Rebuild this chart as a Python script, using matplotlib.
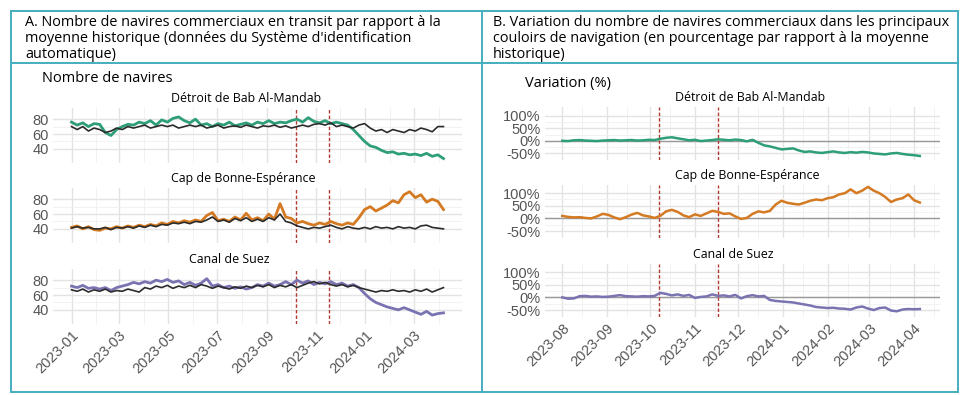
import numpy as np
import pandas as pd
import matplotlib
matplotlib.use('Agg')
import matplotlib.pyplot as plt
import matplotlib.dates as mdates
from matplotlib.patches import Rectangle
from matplotlib.lines import Line2D
from matplotlib.ticker import FuncFormatter

# ---- data ----
# Panel A: weekly counts, 2023-01-01 .. 2024-04-07
dates_a = pd.date_range('2023-01-01', periods=67, freq='7D')

bab_ships = [76, 72, 75, 70, 74, 73, 62, 58, 66, 70, 73, 72, 76,
             74, 78, 72, 79, 76, 81, 83, 78, 75, 80, 72, 74, 70,
             74, 72, 76, 71, 73, 75, 72, 76, 74, 78, 74, 76, 75,
             78, 80, 76, 82, 77, 75, 78, 74, 76, 74, 72, 66, 58, 50,
             44, 42, 38, 35, 36, 33, 34, 32, 33, 31, 34, 30, 32, 27]
bab_hist = [70, 66, 70, 64, 68, 66, 62, 64, 68, 66, 70, 68, 70,
            72, 68, 70, 72, 70, 72, 68, 70, 72, 70, 72, 68, 70,
            72, 68, 70, 71, 69, 72, 70, 68, 71, 70, 72, 69, 71,
            68, 70, 72, 70, 73, 74, 72, 75, 70, 72, 70, 68, 72, 74,
            68, 64, 66, 62, 66, 64, 62, 66, 64, 68, 66, 63, 70, 70]

cap_ships = [42, 44, 40, 43, 39, 38, 41, 40, 43, 41, 44, 42, 45,
             43, 46, 44, 48, 46, 50, 48, 51, 49, 52, 50, 58, 62,
             51, 53, 50, 56, 52, 61, 52, 55, 51, 60, 53, 74, 56,
             54, 48, 50, 47, 45, 48, 46, 50, 47, 45, 48, 46, 55, 66,
             70, 64, 68, 72, 78, 75, 86, 90, 82, 86, 76, 80, 77, 66]
cap_hist = [41, 43, 41, 42, 40, 40, 42, 39, 42, 41, 43, 41, 44,
            42, 45, 43, 46, 45, 48, 47, 49, 47, 50, 49, 52, 56,
            50, 52, 49, 54, 51, 55, 50, 53, 50, 55, 52, 60, 50,
            48, 44, 42, 40, 42, 41, 43, 45, 42, 40, 43, 41, 40, 42,
            40, 43, 41, 42, 40, 43, 41, 42, 40, 44, 45, 42, 41, 40]

suez_ships = [72, 70, 73, 69, 70, 68, 70, 66, 70, 72, 74, 77, 75,
              78, 76, 80, 78, 81, 77, 79, 74, 77, 73, 76, 82, 72,
              74, 70, 72, 69, 71, 68, 70, 74, 72, 76, 72, 74, 78,
              74, 80, 76, 79, 74, 77, 75, 78, 74, 76, 72, 74, 70, 62,
              55, 50, 47, 44, 42, 40, 43, 40, 37, 34, 38, 33, 35, 36]
suez_hist = [67, 65, 68, 64, 67, 65, 68, 64, 66, 65, 68, 66, 64,
             70, 68, 72, 70, 73, 69, 72, 70, 73, 70, 74, 72, 69,
             72, 70, 68, 71, 69, 72, 70, 73, 71, 74, 70, 73, 71,
             74, 70, 73, 76, 78, 75, 77, 74, 72, 74, 71, 73, 70, 68,
             66, 64, 66, 65, 67, 65, 66, 64, 67, 65, 68, 64, 67, 70]

# Panel B: % change vs historical average, every 4 days from 2023-08-01
dates_b = pd.date_range('2023-08-01', periods=63, freq='4D')

bab_pct = [0, -1, 2, 3, 1, 0, -1, 1, 2, 3, 1, 2, 3, 1, 2, 4, 3, 8, 12, 14,
           10, 6, 2, 4, -1, 1, 3, 6, 4, 2, 5, 3, -2, 4, -8, -18, -22, -28, -34, -32,
           -30, -38, -44, -42, -46, -48, -45, -42, -46, -48, -45, -47, -44, -46, -50,
           -52, -54, -50, -48, -52, -55, -57, -60]
cap_pct = [10, 6, 4, 5, 2, 0, 8, 18, 14, 4, -3, 5, 15, 22, 12, 8, 2, 10, 28, 34,
           26, 12, 5, 16, 10, 20, 30, 26, 18, 20, 8, -2, 2, 18, 28, 24, 30, 55, 70, 62,
           58, 55, 62, 70, 75, 72, 80, 84, 95, 100, 115, 100, 110, 125, 110, 100, 85,
           65, 75, 80, 95, 72, 63]
suez_pct = [0, -5, -4, 5, 6, 3, 4, 2, 3, 6, 9, 5, 4, 3, 5, 4, 6, 18, 14, 8,
            12, 6, 10, -2, 2, 4, 12, 6, 8, 4, 10, -4, 5, 9, 4, 6, -10, -14, -16, -18,
            -20, -24, -28, -32, -38, -40, -42, -41, -44, -45, -48, -40, -36, -44, -50,
            -42, -40, -52, -55, -48, -46, -47, -46]

facets = ['Détroit de Bab Al-Mandab', 'Cap de Bonne-Espérance', 'Canal de Suez']
events = pd.to_datetime(['2023-10-07', '2023-11-17'])

colors = ['#2e9e7a', '#d47a22', '#7a73b2']

# ---- layout helpers (pixel boxes) ----
W, H = 961, 395
fig = plt.figure(figsize=(W / 100, H / 100), dpi=100)


def box(l, t, r, b):
    return [l / W, 1 - b / H, (r - l) / W, (b - t) / H]


def fx(x):
    return x / W


def fy(y):
    return 1 - y / H


tick_font = dict(family='Liberation Sans', size=10.5, color='#555555')
grid_major = '#e3e3e3'
grid_minor = '#f0f0f0'


def style(ax, ylim, yticks, fmt, show_x, major_loc, minor_loc, xlim):
    ax.set_xlim(xlim)
    ax.set_ylim(ylim)
    for s in ax.spines.values():
        s.set_visible(False)
    ax.set_yticks(yticks)
    ax.yaxis.set_major_formatter(FuncFormatter(fmt))
    mids = [(yticks[i] + yticks[i + 1]) / 2 for i in range(len(yticks) - 1)]
    ax.set_yticks(mids, minor=True)
    ax.xaxis.set_major_locator(major_loc)
    ax.xaxis.set_minor_locator(minor_loc)
    ax.xaxis.set_major_formatter(mdates.DateFormatter('%Y-%m'))
    ax.grid(which='major', color=grid_major, lw=1.0)
    ax.grid(which='minor', color=grid_minor, lw=0.6)
    ax.set_axisbelow(True)
    ax.tick_params(which='both', length=0, pad=3)
    for lab in ax.get_yticklabels():
        lab.set(**tick_font)
    if show_x:
        for lab in ax.get_xticklabels():
            lab.set(**tick_font)
            lab.set_rotation(45)
            lab.set_ha('right')
            lab.set_rotation_mode('anchor')
    else:
        ax.set_xticklabels([])
    for ev in events:
        ax.axvline(ev, color='#b03a2e', lw=1.0, ls=(0, (2.5, 1.5)), zorder=3)


# ---- Panel A ----
xlim_a = (pd.Timestamp('2022-12-09'), pd.Timestamp('2024-04-30'))
rows_a = [(108, 163), (188, 243), (269, 324)]
ships = [bab_ships, cap_ships, suez_ships]
hist = [bab_hist, cap_hist, suez_hist]
title_xa = [246, 243, 229]
for i in range(3):
    t, b = rows_a[i]
    ax = fig.add_axes(box(53, t, 462, b))
    ax.plot(dates_a, ships[i], color=colors[i], lw=2.0, zorder=4)
    ax.plot(dates_a, hist[i], color='#2b2b2b', lw=1.2, zorder=5)
    style(ax, (21, 95), [40, 60, 80], lambda v, p: f'{v:.0f}', i == 2,
          mdates.MonthLocator(bymonth=[1, 3, 5, 7, 9, 11]),
          mdates.MonthLocator(bymonth=[2, 4, 6, 8, 10, 12]), xlim_a)
    fig.text(fx(title_xa[i]), fy(t - 3), facets[i], ha='center', va='bottom',
             family='Open Sans', size=8.9, color='black')

# ---- Panel B ----
xlim_b = (pd.Timestamp('2023-07-20'), pd.Timestamp('2024-04-19'))
rows_b = [(107, 160), (184.6, 237.6), (263.6, 316.6)]
pcts = [bab_pct, cap_pct, suez_pct]
title_xb = [750, 747, 733]
for i in range(3):
    t, b = rows_b[i]
    ax = fig.add_axes(box(545, t, 940, b))
    ax.axhline(0, color='#9a9a9a', lw=1.0, zorder=2)
    ax.plot(dates_b, pcts[i], color=colors[i], lw=1.8, zorder=4)
    style(ax, (-76, 134), [-50, 0, 50, 100], lambda v, p: f'{v:.0f}%', i == 2,
          mdates.MonthLocator(),
          mdates.MonthLocator(bymonthday=15), xlim_b)
    fig.text(fx(title_xb[i]), fy(t - 3), facets[i], ha='center', va='bottom',
             family='Open Sans', size=8.9, color='black')

# ---- headers and frame ----
head_font = dict(family='Open Sans', size=10.4, color='black', va='center')
lines_a = ["A. Nombre de navires commerciaux en transit par rapport à la",
           "moyenne historique (données du Système d'identification",
           "automatique)"]
lines_b = ["B. Variation du nombre de navires commerciaux dans les principaux",
           "couloirs de navigation (en pourcentage par rapport à la moyenne",
           "historique)"]
for k, yy in enumerate([22, 38.5, 55]):
    fig.text(fx(25), fy(yy), lines_a[k], **head_font)
    fig.text(fx(493), fy(yy), lines_b[k], **head_font)

fig.text(fx(42), fy(79), 'Nombre de navires', family='Open Sans', size=10.5,
         va='center', ha='left')
fig.text(fx(525), fy(83), 'Variation (%)', family='Open Sans', size=10.5,
         va='center', ha='left')

teal = '#45aebf'
fig.add_artist(Rectangle((fx(10.5), fy(392)), fx(957.5) - fx(10.5), fy(10.5) - fy(392),
                         fill=False, edgecolor=teal, lw=1.4, transform=fig.transFigure))
fig.add_artist(Line2D([fx(10.5), fx(957.5)], [fy(63), fy(63)], color=teal, lw=1.4,
                      transform=fig.transFigure))
fig.add_artist(Line2D([fx(482), fx(482)], [fy(10.5), fy(392)], color=teal, lw=1.4,
                      transform=fig.transFigure))

fig.savefig('out.png', dpi=100)
